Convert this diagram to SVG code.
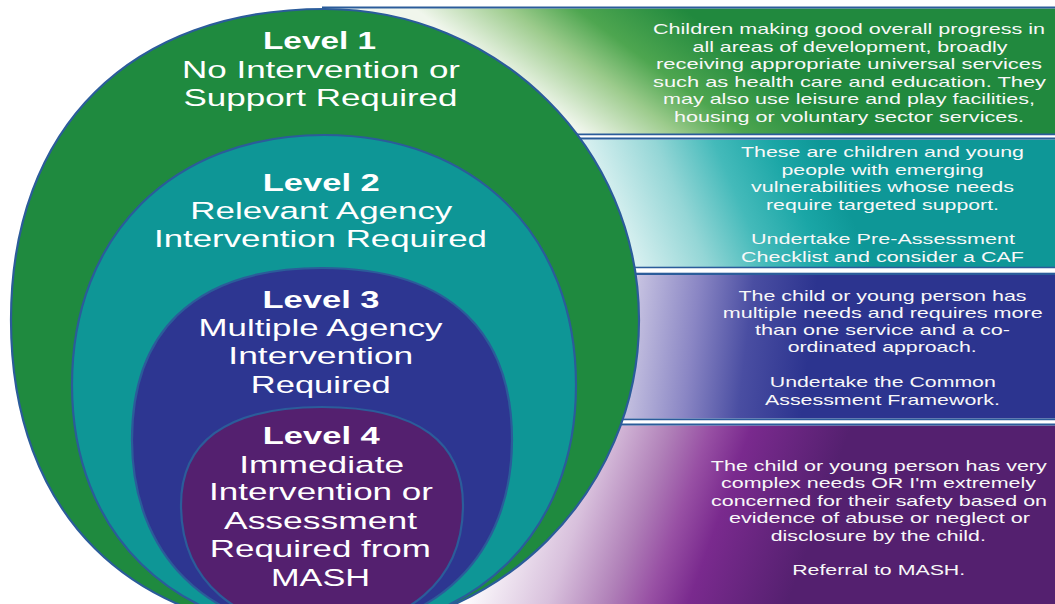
<svg xmlns="http://www.w3.org/2000/svg" width="1055" height="604" viewBox="0 0 1055 604">
<defs>
<style>
.sep{fill:#2b5c9a}
.wsep{fill:#ffffff}
.ring{stroke:#2b5c9a;stroke-width:2.2}
.h{font-family:"Liberation Sans",Arial,sans-serif;font-weight:bold;font-size:24.5px;fill:#ffffff;text-anchor:middle}
.t{font-family:"Liberation Sans",Arial,sans-serif;font-size:24.5px;fill:#ffffff;text-anchor:middle}
.d{font-family:"Liberation Sans",Arial,sans-serif;font-size:15px;fill:#f8f8f8;text-anchor:middle}
</style>
<linearGradient id="gGreen" gradientUnits="userSpaceOnUse" x1="506.5" y1="76.5" x2="601.5" y2="-52">
<stop offset="0" stop-color="#f0f6ec"/>
<stop offset="0.35" stop-color="#9ccb8c"/>
<stop offset="0.6" stop-color="#4ea650"/>
<stop offset="1" stop-color="#21893e"/>
</linearGradient>
<linearGradient id="gTeal" gradientUnits="userSpaceOnUse" x1="610" y1="203" x2="810" y2="118">
<stop offset="0" stop-color="#d8f0f0"/>
<stop offset="0.3" stop-color="#94d6d6"/>
<stop offset="0.55" stop-color="#44baba"/>
<stop offset="0.8" stop-color="#1aa6a6"/>
<stop offset="1" stop-color="#0e9797"/>
</linearGradient>
<linearGradient id="gBlue" gradientUnits="userSpaceOnUse" x1="628" y1="346" x2="807" y2="367">
<stop offset="0" stop-color="#c8c4e2"/>
<stop offset="0.35" stop-color="#8a86c4"/>
<stop offset="0.65" stop-color="#4a4ea2"/>
<stop offset="1" stop-color="#2c348f"/>
</linearGradient>
<linearGradient id="gPurple" gradientUnits="userSpaceOnUse" x1="495.8" y1="500" x2="787.8" y2="604.2">
<stop offset="0" stop-color="#ffffff"/>
<stop offset="0.271" stop-color="#d8c0dc"/>
<stop offset="0.453" stop-color="#b080b8"/>
<stop offset="0.574" stop-color="#9850a4"/>
<stop offset="0.697" stop-color="#7a2a8e"/>
<stop offset="1" stop-color="#54206f"/>
</linearGradient>
</defs>
<rect x="0" y="0" width="1055" height="604" fill="#ffffff"/>

<g id="band-1">
<rect x="322" y="8.5" width="733" height="125.5" fill="url(#gGreen)"/>
<rect class="sep" x="322" y="6.5" width="733" height="2"/>
<text class="d" x="849" y="34" textLength="392" lengthAdjust="spacingAndGlyphs">Children making good overall progress in</text>
<text class="d" x="850" y="51.5" textLength="315" lengthAdjust="spacingAndGlyphs">all areas of development, broadly</text>
<text class="d" x="849" y="69" textLength="386" lengthAdjust="spacingAndGlyphs">receiving appropriate universal services</text>
<text class="d" x="849.5" y="86.5" textLength="393" lengthAdjust="spacingAndGlyphs">such as health care and education. They</text>
<text class="d" x="849" y="104" textLength="372" lengthAdjust="spacingAndGlyphs">may also use leisure and play facilities,</text>
<text class="d" x="849" y="121.5" textLength="350" lengthAdjust="spacingAndGlyphs">housing or voluntary sector services.</text>
</g>

<g id="band-2">
<rect x="322" y="139.5" width="733" height="127.5" fill="url(#gTeal)"/>
<rect class="sep" x="322" y="133.5" width="733" height="2"/>
<rect class="wsep" x="322" y="135.5" width="733" height="2"/>
<rect class="sep" x="322" y="137.5" width="733" height="2"/>
<text class="d" x="882.5" y="157" textLength="283" lengthAdjust="spacingAndGlyphs">These are children and young</text>
<text class="d" x="882.5" y="174.5" textLength="202" lengthAdjust="spacingAndGlyphs">people with emerging</text>
<text class="d" x="882.5" y="192" textLength="263" lengthAdjust="spacingAndGlyphs">vulnerabilities whose needs</text>
<text class="d" x="882.5" y="209.5" textLength="233" lengthAdjust="spacingAndGlyphs">require targeted support.</text>
<text class="d" x="883" y="244" textLength="264" lengthAdjust="spacingAndGlyphs">Undertake Pre-Assessment</text>
<text class="d" x="882.5" y="261.5" textLength="283" lengthAdjust="spacingAndGlyphs">Checklist and consider a CAF</text>
</g>

<g id="band-3">
<rect x="322" y="275" width="733" height="143.5" fill="url(#gBlue)"/>
<rect class="sep" x="322" y="266.7" width="733" height="1.8"/>
<rect class="wsep" x="322" y="268.5" width="733" height="4.2"/>
<rect class="sep" x="322" y="272.7" width="733" height="2.3"/>
<text class="d" x="882.5" y="300.5" textLength="288" lengthAdjust="spacingAndGlyphs">The child or young person has</text>
<text class="d" x="882.7" y="318" textLength="320" lengthAdjust="spacingAndGlyphs">multiple needs and requires more</text>
<text class="d" x="882.5" y="335" textLength="255" lengthAdjust="spacingAndGlyphs">than one service and a co-</text>
<text class="d" x="882.2" y="352" textLength="189" lengthAdjust="spacingAndGlyphs">ordinated approach.</text>
<text class="d" x="882.8" y="387" textLength="226" lengthAdjust="spacingAndGlyphs">Undertake the Common</text>
<text class="d" x="882.5" y="404.5" textLength="235" lengthAdjust="spacingAndGlyphs">Assessment Framework.</text>
</g>

<g id="band-4">
<rect x="322" y="425.5" width="733" height="178.5" fill="url(#gPurple)"/>
<rect class="sep" x="322" y="418.5" width="733" height="2"/>
<rect class="wsep" x="322" y="420.5" width="733" height="3"/>
<rect class="sep" x="322" y="423.5" width="733" height="2"/>
<text class="d" x="878.8" y="470.5" textLength="336" lengthAdjust="spacingAndGlyphs">The child or young person has very</text>
<text class="d" x="878.5" y="488" textLength="315" lengthAdjust="spacingAndGlyphs">complex needs OR I'm extremely</text>
<text class="d" x="879" y="505.5" textLength="336" lengthAdjust="spacingAndGlyphs">concerned for their safety based on</text>
<text class="d" x="879.5" y="523" textLength="301" lengthAdjust="spacingAndGlyphs">evidence of abuse or neglect or</text>
<text class="d" x="878.3" y="540.5" textLength="215" lengthAdjust="spacingAndGlyphs">disclosure by the child.</text>
<text class="d" x="878.7" y="575" textLength="173" lengthAdjust="spacingAndGlyphs">Referral to MASH.</text>
</g>

<g id="level-1">
<path class="ring" fill="#1f8a3f" d="M325,9 C130.3,9 11,127.2 11,320 C11,513.4 130.3,632 325,632 C498.4,632 639,492.3 639,320 C639,148.2 498.4,9 325,9 Z"/>
<text class="h" x="319.5" y="49.3" textLength="113" lengthAdjust="spacingAndGlyphs">Level 1</text>
<text class="t" x="321" y="77.7" textLength="278" lengthAdjust="spacingAndGlyphs">No Intervention or</text>
<text class="t" x="320.5" y="106" textLength="274" lengthAdjust="spacingAndGlyphs">Support Required</text>
</g>

<g id="level-2">
<path class="ring" fill="#0e9696" d="M324,135 C172.8,135 72,235 72,385 C72,533.2 172.8,632 324,632 C475.2,632 576,533.2 576,385 C576,235 475.2,135 324,135 Z"/>
<text class="h" x="321.3" y="190.7" textLength="117" lengthAdjust="spacingAndGlyphs">Level 2</text>
<text class="t" x="321.3" y="219" textLength="262" lengthAdjust="spacingAndGlyphs">Relevant Agency</text>
<text class="t" x="320.5" y="247.3" textLength="333" lengthAdjust="spacingAndGlyphs">Intervention Required</text>
</g>

<g id="level-3">
<path class="ring" fill="#2d3691" d="M322,268 C189,268 132,336.8 132,440 C132,554 208,630 322,630 C436,630 512,554 512,440 C512,336.8 455,268 322,268 Z"/>
<text class="h" x="321" y="307.6" textLength="117" lengthAdjust="spacingAndGlyphs">Level 3</text>
<text class="t" x="320.5" y="336" textLength="244" lengthAdjust="spacingAndGlyphs">Multiple Agency</text>
<text class="t" x="320.8" y="364.3" textLength="185" lengthAdjust="spacingAndGlyphs">Intervention</text>
<text class="t" x="320.8" y="392.7" textLength="140" lengthAdjust="spacingAndGlyphs">Required</text>
</g>

<g id="level-4">
<path class="ring" fill="#54206f" d="M322,407 C223.3,407 181,444.2 181,505 C181,581.3 237.4,628 322,628 C406.6,628 463,581.3 463,505 C463,444.2 420.7,407 322,407 Z"/>
<text class="h" x="321.3" y="444" textLength="117" lengthAdjust="spacingAndGlyphs">Level 4</text>
<text class="t" x="321.7" y="472.7" textLength="165" lengthAdjust="spacingAndGlyphs">Immediate</text>
<text class="t" x="321" y="500.3" textLength="224" lengthAdjust="spacingAndGlyphs">Intervention or</text>
<text class="t" x="320.5" y="529" textLength="193" lengthAdjust="spacingAndGlyphs">Assessment</text>
<text class="t" x="320.3" y="556.7" textLength="221" lengthAdjust="spacingAndGlyphs">Required from</text>
<text class="t" x="320.5" y="585.7" textLength="99" lengthAdjust="spacingAndGlyphs">MASH</text>
</g>
</svg>
